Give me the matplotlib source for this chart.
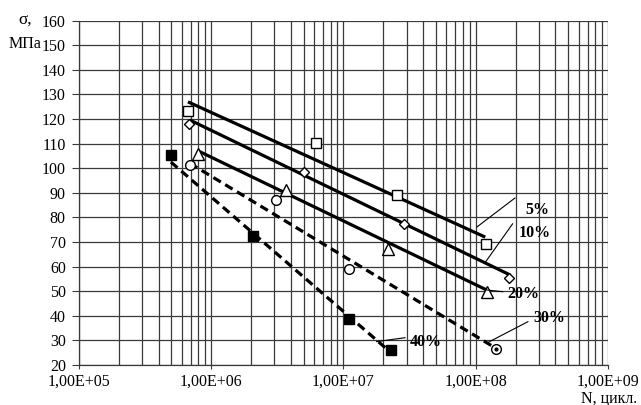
import numpy as np
import matplotlib
matplotlib.use('Agg')
import matplotlib.pyplot as plt
from matplotlib.ticker import LogLocator, FuncFormatter, MultipleLocator

plt.rcParams['font.family'] = ['Liberation Serif', 'DejaVu Serif']

# experimental points (N, cycles ; sigma, MPa)
n_5 = [6.7e5, 6.2e6, 2.55e7, 1.2e8]
s_5 = [123.3, 110.4, 89.1, 69.2]
n_10 = [6.8e5, 5.0e6, 2.88e7, 1.8e8]
s_10 = [118.1, 98.6, 77.2, 55.5]
n_20 = [8.0e5, 3.7e6, 2.18e7, 1.21e8]
s_20 = [105.8, 91.2, 67.1, 49.6]
n_30 = [6.9e5, 3.07e6, 1.11e7, 1.42e8]
s_30 = [101.2, 87.1, 59.1, 26.5]
n_40 = [4.96e5, 2.08e6, 1.1e7, 2.29e7]
s_40 = [105.3, 72.5, 38.6, 26.1]

# trend lines (start, end)
tn_5, ts_5 = [6.67e5, 1.18e8], [127.0, 72.0]
tn_10, ts_10 = [6.9e5, 1.82e8], [119.6, 56.6]
tn_20, ts_20 = [8.0e5, 1.21e8], [107.0, 50.5]
tn_30, ts_30 = [6.9e5, 1.42e8], [102.0, 26.8]
tn_40, ts_40 = [4.96e5, 2.29e7], [102.5, 25.0]

# labels: text, text position, leader from, leader to
labels = ['5%', '10%', '20%', '30%', '40%']
lab_n = [2.9e8, 2.8e8, 2.3e8, 3.6e8, 4.2e7]
lab_s = [83.0, 73.5, 48.8, 39.0, 29.2]
lead_n0 = [1.98e8, 1.9e8, 1.6e8, 2.48e8, 2.92e7]
lead_s0 = [87.9, 77.4, 49.8, 37.6, 31.1]
lead_n1 = [1.02e8, 1.19e8, 1.21e8, 1.21e8, 1.78e7]
lead_s1 = [76.1, 62.0, 50.5, 28.9, 29.5]

fig = plt.figure(figsize=(6.41, 4.05), dpi=100)
ax = fig.add_axes([0.1232, 0.0988, 0.8253, 0.8501])

ax.set_xscale('log')
ax.set_xlim(1e5, 1e9)
ax.set_ylim(20, 160)

gc = '#3a3a3a'
fs = 11.5
ax.xaxis.set_major_locator(LogLocator(base=10))
ax.xaxis.set_minor_locator(LogLocator(base=10, subs=np.arange(2, 10)))
ax.yaxis.set_major_locator(MultipleLocator(10))
ax.xaxis.set_major_formatter(FuncFormatter(lambda v, p: ('%.2E' % v).replace('.', ',')))
ax.grid(True, which='major', color=gc, lw=0.9)
ax.grid(True, which='minor', axis='x', color=gc, lw=0.9)
ax.tick_params(axis='x', which='major', direction='out', length=3, pad=3.5, labelsize=fs, color=gc)
ax.tick_params(axis='x', which='minor', length=0)
ax.tick_params(axis='y', direction='out', length=5, pad=4.5, labelsize=fs, color=gc)
for k in ['top', 'right']:
    ax.spines[k].set_visible(False)
for k in ['left', 'bottom']:
    ax.spines[k].set_color(gc)
    ax.spines[k].set_linewidth(0.9)

lw = 2.3
ax.plot(tn_5, ts_5, color='black', lw=lw, solid_capstyle='butt')
ax.plot(tn_10, ts_10, color='black', lw=lw, solid_capstyle='butt')
ax.plot(tn_20, ts_20, color='black', lw=lw, solid_capstyle='butt')
ax.plot(tn_30, ts_30, color='black', lw=lw, dashes=(2.7, 1.6), dash_capstyle='butt')
ax.plot(tn_40, ts_40, color='black', lw=lw, dashes=(2.7, 1.6), dash_capstyle='butt')

ax.plot(n_5, s_5, 's', ms=7.5, mfc='white', mec='black', mew=1.0)
ax.plot(n_10, s_10, 'D', ms=5.5, mfc='white', mec='black', mew=1.0)
ax.plot(n_20, s_20, '^', ms=8, mfc='white', mec='black', mew=1.0)
ax.plot(n_30, s_30, 'o', ms=7, mfc='white', mec='black', mew=1.0)
ax.plot(n_30[-1:], s_30[-1:], 'o', ms=2, color='black')
ax.plot(n_40, s_40, 's', ms=7.5, mfc='black', mec='black')

for i in range(len(labels)):
    ax.plot([lead_n0[i], lead_n1[i]], [lead_s0[i], lead_s1[i]], color='black', lw=0.8)
    ax.text(lab_n[i], lab_s[i], labels[i], fontsize=fs, fontweight='bold',
            ha='center', va='center')

fig.text(0.04, 0.948, 'σ,', fontsize=fs + 1, ha='center', va='center')
fig.text(0.014, 0.892, 'МПа', fontsize=fs, ha='left', va='center')
fig.text(0.994, 0.016, 'N, цикл.', fontsize=fs, ha='right', va='center')

fig.savefig('out.png', dpi=100)
